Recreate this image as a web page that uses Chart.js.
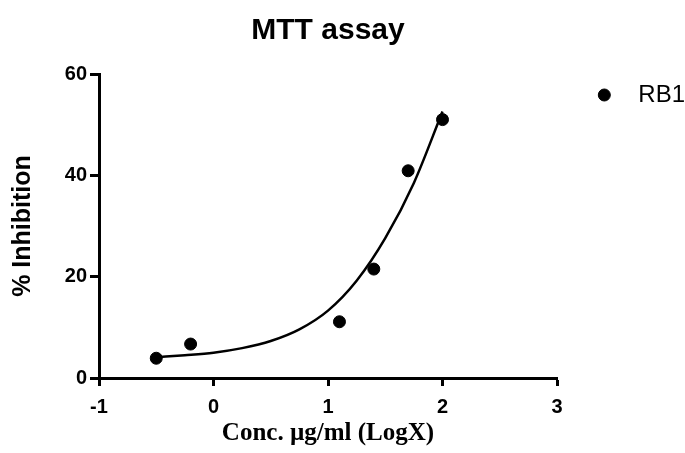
<!DOCTYPE html>
<html>
<head>
<meta charset="utf-8">
<title>MTT assay</title>
<script src="https://cdn.jsdelivr.net/npm/chart.js@4.4.1/dist/chart.umd.min.js"></script>
<style>
  html, body { margin: 0; padding: 0; background: #fff; }
  #chart { display: block; }
</style>
</head>
<body>
<canvas id="chart" width="685" height="453"></canvas>
<script>
// measured points: log10(conc) vs % inhibition
var logConc = [-0.5, -0.2, 1.1, 1.4, 1.7, 2.0];
var inhibition = [3.9, 6.7, 11.1, 21.5, 40.9, 51.0];

// fitted curve
var fitX = [-0.5, -0.25, 0, 0.25, 0.5, 0.75, 1.0, 1.25, 1.5, 1.75, 2.0];
var fitY = [4.1, 4.5, 5.0, 5.9, 7.3, 9.6, 13.3, 19.2, 27.6, 38.5, 52.6];

var xTicks = [-1, 0, 1, 2, 3];
var yTicks = [0, 20, 40, 60];

var sans = '"Liberation Sans", Arial, Helvetica, sans-serif';
var serif = '"Liberation Serif", "Times New Roman", serif';

function toPoints(xs, ys) {
    var out = [];
    for (var i = 0; i < xs.length; i++) {
        out.push({ x: xs[i], y: ys[i] });
    }
    return out;
}

const ctx = document.getElementById('chart').getContext('2d');
const myChart = new Chart(ctx, {
    type: 'scatter',
    data: {
        datasets: [{
            label: 'RB1 fit',
            data: toPoints(fitX, fitY),
            showLine: true,
            borderColor: '#000',
            borderWidth: 2.5,
            pointRadius: 0,
            pointHoverRadius: 0,
            cubicInterpolationMode: 'monotone',
            fill: false
        }, {
            label: 'RB1',
            data: toPoints(logConc, inhibition),
            showLine: false,
            backgroundColor: '#000',
            borderColor: '#000',
            borderWidth: 1,
            pointStyle: 'circle',
            pointRadius: 6,
            pointHoverRadius: 6
        }]
    },
    options: {
        responsive: false,
        animation: false,
        layout: { padding: { left: 0, top: 0, right: 0, bottom: 0 } },
        plugins: {
            tooltip: { enabled: false },
            title: {
                display: true,
                text: 'MTT assay',
                fullSize: false,
                color: '#000',
                font: { family: sans, size: 30, weight: 'bold' },
                padding: { top: 12.4, bottom: 25.6 }
            },
            legend: {
                position: 'right',
                align: 'start',
                fullSize: true,
                // empty title only used to push the entry down
                title: { display: true, text: '', font: { size: 10, lineHeight: 1 }, padding: { top: 37.7, bottom: 0 } },
                labels: {
                    usePointStyle: true,
                    pointStyle: 'circle',
                    boxWidth: 24,
                    boxHeight: 8.5,
                    padding: 35.3,
                    color: '#000',
                    textAlign: 'right',
                    font: { family: sans, size: 24 },
                    filter: function (item) { return item.text === 'RB1'; }
                }
            }
        },
        scales: {
            x: {
                type: 'linear',
                position: 'bottom',
                min: xTicks[0],
                max: xTicks[xTicks.length - 1],
                afterBuildTicks: function (axis) {
                    axis.ticks = xTicks.map(function (v) { return { value: v }; });
                },
                afterFit: function (scale) { scale.height = 75; },
                grid: { drawOnChartArea: false, drawTicks: true, tickLength: 8, tickWidth: 3, color: '#000' },
                border: { display: true, width: 3, color: '#000' },
                ticks: {
                    color: '#000',
                    padding: 9.5,
                    maxRotation: 0,
                    font: { family: sans, size: 20, weight: 'bold' }
                },
                title: {
                    display: true,
                    text: 'Conc. µg/ml (LogX)',
                    color: '#000',
                    font: { family: serif, size: 25, weight: 'bold' },
                    padding: { top: 0, bottom: 4 }
                }
            },
            y: {
                type: 'linear',
                position: 'left',
                min: yTicks[0],
                max: yTicks[yTicks.length - 1],
                afterBuildTicks: function (axis) {
                    axis.ticks = yTicks.map(function (v) { return { value: v }; });
                },
                afterFit: function (scale) { scale.width = 99; },
                grid: { drawOnChartArea: false, drawTicks: true, tickLength: 9, tickWidth: 3, color: '#000' },
                border: { display: true, width: 3, color: '#000' },
                ticks: {
                    color: '#000',
                    padding: 3,
                    font: { family: sans, size: 20, weight: 'bold' }
                },
                title: {
                    display: true,
                    text: '% Inhibition',
                    color: '#000',
                    font: { family: sans, size: 25, weight: 'bold' },
                    padding: { top: 8, bottom: 0 }
                }
            }
        }
    }
});
</script>
</body>
</html>
